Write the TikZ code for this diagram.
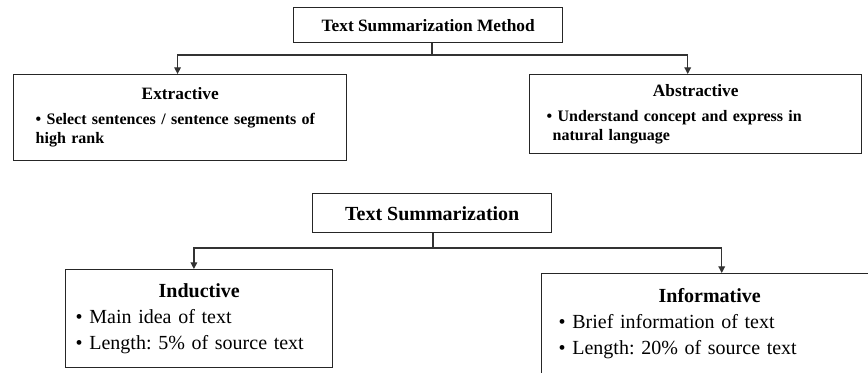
\documentclass[tikz,border=0pt]{standalone}
\usepackage{fontspec}
\setmainfont{Liberation Serif}
\usepackage{tikz}
\usetikzlibrary{arrows.meta, positioning}
\frenchspacing

\tikzset{
  box/.style={draw=black!85, line width=1.1pt, rectangle, anchor=north west, inner ysep=2pt},
  link/.style={draw=black!80, line width=0.9pt, -{Triangle[length=5pt,width=5pt]}},
  topfont/.style={font=\fontsize{12}{14.5}\selectfont\bfseries},
  lowfont/.style={font=\fontsize{15}{19.5}\selectfont},
}

\begin{document}
\begin{tikzpicture}[x=0.75pt,y=0.75pt,yscale=-1,xscale=1]
\useasboundingbox (0,0) rectangle (868,373);
\clip (0,0) rectangle (868,373);

%Box: method
\node [box, minimum width=201.75pt, minimum height=26.25pt, font=\fontsize{13}{15}\selectfont\bfseries] (method) at (293,7) {Text Summarization Method};
%Box: extractive
\node [box, topfont, text width=216.75pt, inner xsep=16.5pt, minimum height=64.5pt, align=left] (extr) at (13,74)
  {{\centering\fontsize{13}{15}\selectfont Extractive\par}\vspace{4pt}\textbullet\ Select sentences / sentence segments of\\high rank};
%Box: abstractive
\node [box, topfont, text width=223.5pt, inner xsep=12.75pt, minimum height=59.25pt, align=left] (abstr) at (529,74)
  {{\centering\fontsize{13}{15}\selectfont Abstractive\par}\vspace{4pt}\textbullet\ Understand concept and express in\\\hspace*{4.5pt}natural language};

%Box: summarization
\node [box, minimum width=179.25pt, minimum height=29.25pt, font=\fontsize{15}{18}\selectfont\bfseries] (summ) at (312,193) {Text Summarization};
%Box: inductive
\node [box, lowfont, text width=185.25pt, inner xsep=7.5pt, minimum height=73.5pt, align=left] (induct) at (65,269)
  {{\centering\bfseries Inductive\par}\textbullet\ Main idea of text\\\textbullet\ Length: 5\% of source text};
%Box: informative
\node [box, lowfont, text width=226.5pt, inner xsep=12.75pt, minimum height=75pt, align=left] (inform) at (541,273)
  {{\centering\bfseries Informative\par}\textbullet\ Brief information of text\\\textbullet\ Length: 20\% of source text};

%Connectors: upper tree
\coordinate (fork1) at (432,55);
\draw [draw=black!80, line width=0.9pt] (method.south -| fork1) -- (fork1);
\draw [link] (fork1) -| ([xshift=-2pt]extr.north);
\draw [link] (fork1) -| ([xshift=-6pt]abstr.north);

%Connectors: lower tree
\coordinate (fork2) at (433,248);
\draw [draw=black!80, line width=0.9pt] (summ.south -| fork2) -- (fork2);
\draw [link] (fork2) -| ([xshift=-4pt]induct.north);
\draw [link] (fork2) -| ([xshift=9pt]inform.north);

\end{tikzpicture}
\end{document}
